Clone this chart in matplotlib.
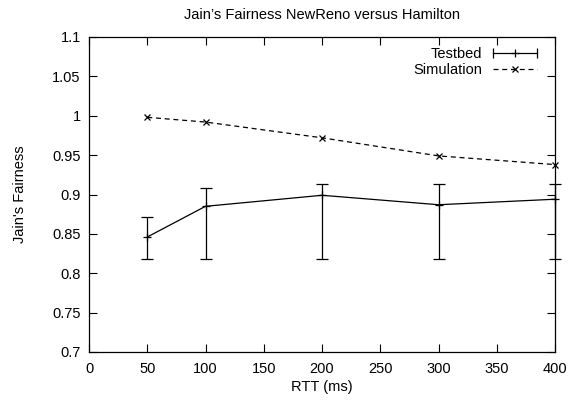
import matplotlib
matplotlib.use("Agg")
import matplotlib.pyplot as plt
from matplotlib.lines import Line2D
from matplotlib.legend_handler import HandlerBase
from matplotlib.ticker import FuncFormatter, MultipleLocator

plt.rcParams['font.family'] = ['Liberation Sans', 'DejaVu Sans']

rtt = [50, 100, 200, 300, 400]
testbed = [0.846, 0.885, 0.899, 0.887, 0.894]
testbed_low = [0.818, 0.818, 0.818, 0.818, 0.818]
testbed_high = [0.871, 0.908, 0.913, 0.913, 0.913]
simulation = [0.998, 0.992, 0.972, 0.949, 0.938]

title = "Jain\u2019s Fairness NewReno versus Hamilton"
xlabel = "RTT (ms)"
ylabel = "Jain's Fairness"
labels = ["Testbed", "Simulation"]

FS = 10.5


class HandlerErrH(HandlerBase):
    def create_artists(self, legend, orig, xdescent, ydescent, width, height, fontsize, trans):
        y = height / 2 - ydescent
        x0, x1 = -xdescent, -xdescent + width
        a = Line2D([x0, x1], [y, y], color='k', lw=0.9)
        b = Line2D([x0, x1], [y, y], ls='none', marker='|', ms=7, mew=0.9, color='k')
        c = Line2D([(x0 + x1) / 2], [y], ls='none', marker='+', ms=6, mew=0.9, color='k')
        for art in (a, b, c):
            art.set_transform(trans)
        return [a, b, c]


class HandlerDashX(HandlerBase):
    def create_artists(self, legend, orig, xdescent, ydescent, width, height, fontsize, trans):
        y = height / 2 - ydescent
        x0, x1 = -xdescent, -xdescent + width
        a = Line2D([x0, x1], [y, y], color='k', lw=0.9, ls=(0, (4, 3)))
        c = Line2D([(x0 + x1) / 2], [y], ls='none', marker='x', ms=5, mew=0.9, color='k')
        for art in (a, c):
            art.set_transform(trans)
        return [a, c]


fig = plt.figure(figsize=(5.75, 4.0), dpi=100)
ax = fig.add_axes([89 / 575, 48 / 400, (555 - 89) / 575, (352 - 37) / 400])

yerr = [[t - l for t, l in zip(testbed, testbed_low)],
        [h - t for t, h in zip(testbed, testbed_high)]]
ax.errorbar(rtt, testbed, yerr=yerr, color='k', lw=0.9, elinewidth=0.9,
            capsize=4, capthick=0.9, marker='+', ms=6, mew=0.9, clip_on=False)
ax.plot(rtt, simulation, color='k', lw=0.9, ls=(0, (4, 3)), marker='x',
        ms=5, mew=0.9, clip_on=False)

ax.set_xlim(0, 400)
ax.set_ylim(0.7, 1.1)
ax.xaxis.set_major_locator(MultipleLocator(50))
ax.yaxis.set_major_locator(MultipleLocator(0.05))
ax.yaxis.set_major_formatter(FuncFormatter(lambda v, p: f"{v:g}"))
ax.tick_params(direction='in', length=6, width=0.8, top=True, right=True,
               labelsize=FS)
ax.tick_params(axis='y', pad=6)
ax.tick_params(axis='x', pad=7)
for s in ax.spines.values():
    s.set_linewidth(0.9)

ax.set_title(title, fontsize=FS, pad=13)
ax.set_xlabel(xlabel, fontsize=FS, labelpad=3)
ax.set_ylabel(ylabel, fontsize=FS, labelpad=18)

h1 = Line2D([], [])
h2 = Line2D([], [])
ax.legend([h1, h2], labels, handler_map={h1: HandlerErrH(), h2: HandlerDashX()},
          loc='upper right', frameon=False, markerfirst=False, fontsize=FS,
          handlelength=3.05, handletextpad=0.75, labelspacing=0.12,
          borderaxespad=0.3, bbox_to_anchor=(0.984, 1.0))

fig.savefig("out.png", dpi=100)
